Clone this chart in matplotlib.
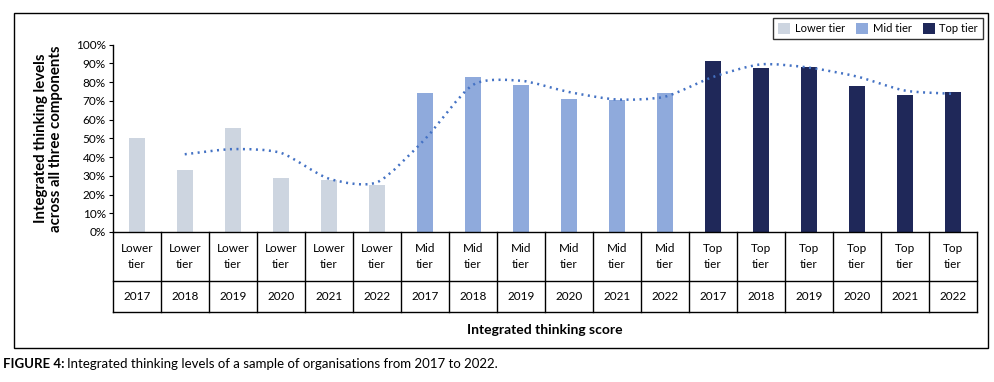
import matplotlib.pyplot as plt
import numpy as np
from matplotlib.patches import Patch, Rectangle, PathPatch
from matplotlib.path import Path
from matplotlib.ticker import PercentFormatter
from matplotlib.lines import Line2D

plt.rcParams['font.family'] = ['Lato', 'DejaVu Sans']

# Data
tiers = ['Lower\ntier'] * 6 + ['Mid\ntier'] * 6 + ['Top\ntier'] * 6
years = ['2017', '2018', '2019', '2020', '2021', '2022'] * 3
values = [50, 33, 55.5, 29, 28, 25,
          74, 83, 78.5, 71, 70.5, 74,
          91.5, 87.5, 88, 78, 73, 74.5]
tier_names = ['Lower tier', 'Mid tier', 'Top tier']
tier_colors = ['#CDD5E0', '#8FAADC', '#1F2859']

vals = np.array(values) / 100
bar_colors = [tier_colors[i // 6] for i in range(len(vals))]
x = np.arange(len(vals))

fig = plt.figure(figsize=(9.94, 3.82), dpi=100)
ax = fig.add_axes([0.1134, 0.3927, 0.8695, 0.4903])

ax.bar(x, vals, width=0.33, color=bar_colors, zorder=2)

# 2-period moving average trendline, drawn as a smooth curve
ma = (vals[1:] + vals[:-1]) / 2
pts = np.column_stack([x[1:], ma])
tang = np.zeros_like(pts)
tang[1:-1] = (pts[2:] - pts[:-2]) / 2
tang[0] = pts[1] - pts[0]
tang[-1] = pts[-1] - pts[-2]
tang *= 0.75
verts = [pts[0]]
codes = [Path.MOVETO]
for i in range(len(pts) - 1):
    verts += [pts[i] + tang[i] / 3, pts[i + 1] - tang[i + 1] / 3, pts[i + 1]]
    codes += [Path.CURVE4] * 3
ax.add_patch(PathPatch(Path(verts, codes), fill=False, edgecolor='#4472C4',
                       linewidth=1.8, linestyle=(0, (0.8, 1.8)), zorder=3))

ax.set_xlim(-0.5, len(vals) - 0.5)
ax.set_ylim(0, 1)
ax.set_yticks(np.arange(0, 1.01, 0.1))
ax.yaxis.set_major_formatter(PercentFormatter(1.0, decimals=0))
ax.tick_params(axis='y', labelsize=8.5, length=3, pad=2)
ax.set_xticks([])
for s in ['top', 'right']:
    ax.spines[s].set_visible(False)
ax.spines['left'].set_linewidth(1)
ax.spines['bottom'].set_linewidth(1)

ax.set_ylabel('Integrated thinking levels\nacross all three components',
              fontsize=10.8, fontweight='bold', labelpad=9, linespacing=1.1)

# table under the axis
row1 = -0.2616
row2 = -0.427
tr = ax.get_xaxis_transform()
for b in np.arange(-0.5, len(vals), 1.0):
    ax.add_line(Line2D([b, b], [0, row2], transform=tr, color='black',
                       linewidth=1, clip_on=False))
for yy in [row1, row2]:
    ax.add_line(Line2D([-0.5, len(vals) - 0.5], [yy, yy], transform=tr,
                       color='black', linewidth=1, clip_on=False))
for i in range(len(vals)):
    ax.text(x[i], row1 / 2, tiers[i], transform=tr, ha='center', va='center',
            fontsize=8.5, linespacing=1.45)
    ax.text(x[i], (row1 + row2) / 2, years[i], transform=tr, ha='center',
            va='center', fontsize=8.5)

fig.text(0.548, 0.137, 'Integrated thinking score', ha='center', va='center',
         fontsize=10, fontweight='bold')

handles = [Patch(facecolor=c, edgecolor='none') for c in tier_colors]
leg = fig.legend(handles, tier_names, loc='upper right', ncol=3,
                 bbox_to_anchor=(0.989, 0.953), frameon=True, fancybox=False,
                 edgecolor='black', fontsize=8, handlelength=1.1,
                 handleheight=1.1, handletextpad=0.4, columnspacing=1.0,
                 borderpad=0.45, borderaxespad=0)
leg.get_frame().set_linewidth(1)

# outer border
fig.add_artist(Rectangle((0.0141, 0.089), 0.9799, 0.8779, transform=fig.transFigure,
                         fill=False, edgecolor='black', linewidth=1))

# caption
fig.canvas.draw()
t1 = fig.text(0.003, 0.047, 'FIGURE 4:', fontsize=9.5, fontweight='bold',
              va='center', ha='left')
bb = t1.get_window_extent(renderer=fig.canvas.get_renderer())
fig.text(bb.x1 / fig.bbox.width + 0.003, 0.047,
         'Integrated thinking levels of a sample of organisations from 2017 to 2022.',
         fontsize=9.5, va='center', ha='left')

fig.savefig('out.png', dpi=100)
